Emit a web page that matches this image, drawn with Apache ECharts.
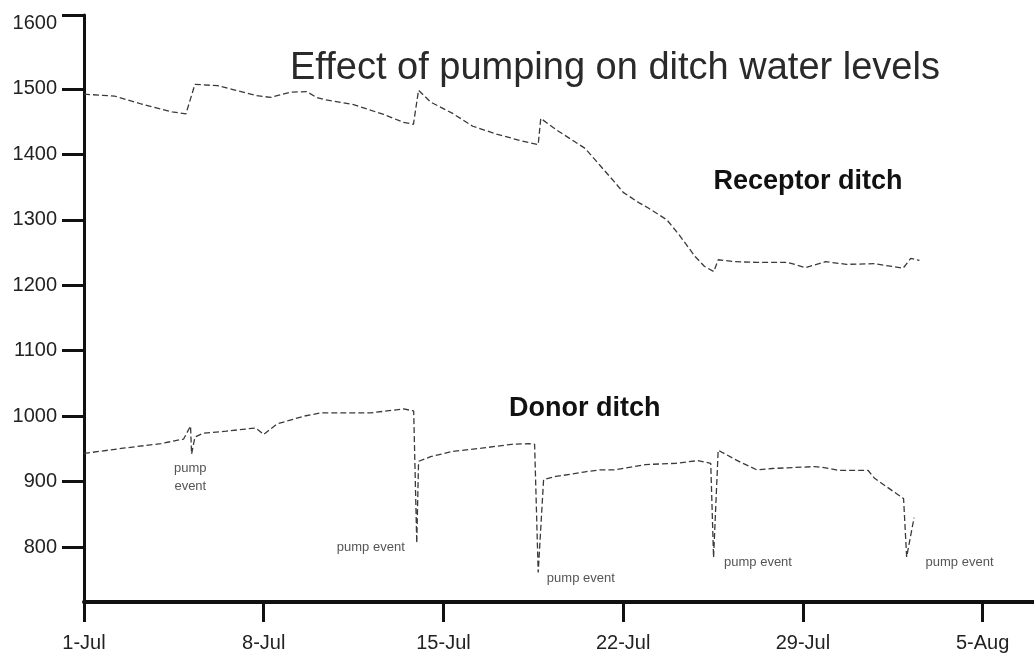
<!DOCTYPE html>
<html>
<head>
<meta charset="utf-8">
<script src="https://cdn.jsdelivr.net/npm/echarts@6/dist/echarts.min.js"></script>
<style>
html,body{margin:0;padding:0;background:#fff;}
#chart{width:1034px;height:660px;}
</style>
</head>
<body>
<div id="chart"></div>
<script>
// x values are days after 1 July
var xTickLabels = ['1-Jul', '8-Jul', '15-Jul', '22-Jul', '29-Jul', '5-Aug'];
var xTickDays = [0, 7, 14, 21, 28, 35];
var yTickValues = [800, 900, 1000, 1100, 1200, 1300, 1400, 1500, 1600];

var receptorDays = [0, 1.2, 2.23, 3.43, 3.97, 4.32, 5.2, 5.8, 6.7, 7.27, 8.05, 8.67, 9.06, 9.33, 10.5, 11.67, 12.44, 12.83,
  13.03, 13.5, 14.34, 15.14, 16.07, 17.0, 17.69, 17.79, 18.38, 19.52, 20.1, 20.66, 21.0, 21.62, 21.98, 22.7, 23.18, 23.8, 24.16, 24.53,
  24.7, 25.35, 26.2, 26.8, 27.4, 28.1, 28.88, 29.7, 30.8, 31.9, 32.2, 32.54];
var receptorLevels = [1492, 1489, 1477, 1465, 1462, 1507, 1505, 1499, 1490, 1487, 1495, 1496, 1487, 1484, 1476, 1461, 1449, 1446,
  1498, 1480, 1463, 1443, 1431, 1421, 1415, 1455, 1438, 1409, 1383, 1358, 1342, 1326, 1318, 1300, 1277, 1244, 1229, 1221,
  1239, 1236, 1235, 1235, 1235, 1227, 1236, 1232, 1233, 1226, 1241, 1238];

var donorDays = [0, 1.52, 2.99, 3.88, 4.15, 4.19, 4.32, 4.64, 5.53, 6.69, 7.0, 7.51, 8.56, 9.22, 9.84, 11.17, 12.45, 12.84, 12.96,
  13.03, 13.5, 14.34, 15.48, 16.66, 17.34, 17.55, 17.69, 17.9, 18.38, 18.93, 19.52, 20.1, 20.66, 21.87, 23.07, 23.9, 24.41, 24.52,
  24.7, 25.35, 25.6, 26.2, 26.8, 27.4, 28.46, 28.88, 29.42, 30.54, 30.79, 31.92, 32.04, 32.33];
var donorLevels = [943, 951, 958, 965, 985, 942, 968, 974, 977, 982, 972, 988, 1000, 1005, 1005, 1005, 1011, 1008, 806,
  931, 938, 946, 951, 957, 958, 957, 761, 903, 908, 911, 915, 918, 918, 926, 928, 932, 928, 784,
  948, 934, 929, 918, 920, 921, 923, 921, 917, 917, 905, 874, 785, 845];

var noteTexts = ['pump\nevent', 'pump event', 'pump event', 'pump event', 'pump event'];
var noteDays = [4.14, 11.17, 19.35, 26.25, 34.1];
var noteLevels = [906, 800, 752, 776, 776];

var seriesNames = ['Receptor ditch', 'Donor ditch'];
var seriesNameDays = [28.2, 19.5];
var seriesNameLevels = [1359, 1012];

var titleText = 'Effect of pumping on ditch water levels';

function pairs(xs, ys) { return xs.map(function (x, i) { return [x, ys[i]]; }); }

var chart = echarts.init(document.getElementById('chart'), null, { renderer: 'canvas' });
var FONT = '"Liberation Sans", Arial, sans-serif';
var lineStyle = { color: '#3a3a3a', width: 1.3, type: [6, 3] };

chart.setOption({
  animation: false,
  backgroundColor: '#ffffff',
  title: {
    text: titleText,
    left: 285, top: 45,
    textStyle: { fontFamily: FONT, fontSize: 38, fontWeight: 'normal', color: '#2a2a2a' }
  },
  grid: { left: 84, right: 0, top: 15, bottom: 58, containLabel: false },
  xAxis: {
    type: 'value', min: 0, max: 37, interval: 7,
    axisLine: { show: true, onZero: false, lineStyle: { color: '#111', width: 4 } },
    axisTick: { show: true, length: 20, lineStyle: { color: '#111', width: 3 }, customValues: xTickDays },
    axisLabel: {
      margin: 31, fontFamily: FONT, fontSize: 20, color: '#222', customValues: xTickDays,
      formatter: function (v) { var i = xTickDays.indexOf(v); return i >= 0 ? xTickLabels[i] : ''; }
    },
    splitLine: { show: false }
  },
  yAxis: {
    type: 'value', min: 716, max: 1613,
    axisLine: { show: true, onZero: false, lineStyle: { color: '#111', width: 3 } },
    axisTick: { show: true, length: 22, lineStyle: { color: '#111', width: 3 },
      customValues: yTickValues.slice(0, -1).concat([1613]) },
    axisLabel: { margin: 27, fontFamily: FONT, fontSize: 20, color: '#222', customValues: yTickValues,
      formatter: function (v) { return String(v); } },
    splitLine: { show: false }
  },
  series: [
    {
      name: seriesNames[0], type: 'line', data: pairs(receptorDays, receptorLevels),
      showSymbol: false, symbol: 'none', lineStyle: lineStyle, silent: true
    },
    {
      name: seriesNames[1], type: 'line', data: pairs(donorDays, donorLevels),
      showSymbol: false, symbol: 'none', lineStyle: lineStyle, silent: true
    },
    {
      type: 'scatter', symbolSize: 0, silent: true, itemStyle: { opacity: 1, color: '#fff' },
      data: noteDays.map(function (d, i) { return { value: [d, noteLevels[i]], name: noteTexts[i] }; }),
      label: { show: true, position: [0, 0], align: 'center', verticalAlign: 'middle', formatter: '{b}',
        fontFamily: FONT, fontSize: 13, color: '#555', lineHeight: 18 }
    },
    {
      type: 'scatter', symbolSize: 0, silent: true, itemStyle: { opacity: 1, color: '#fff' },
      data: seriesNameDays.map(function (d, i) { return { value: [d, seriesNameLevels[i]], name: seriesNames[i] }; }),
      label: { show: true, position: [0, 0], align: 'center', verticalAlign: 'middle', formatter: '{b}',
        fontFamily: FONT, fontSize: 27, fontWeight: 'bold', color: '#111' }
    }
  ]
});
</script>
</body>
</html>
